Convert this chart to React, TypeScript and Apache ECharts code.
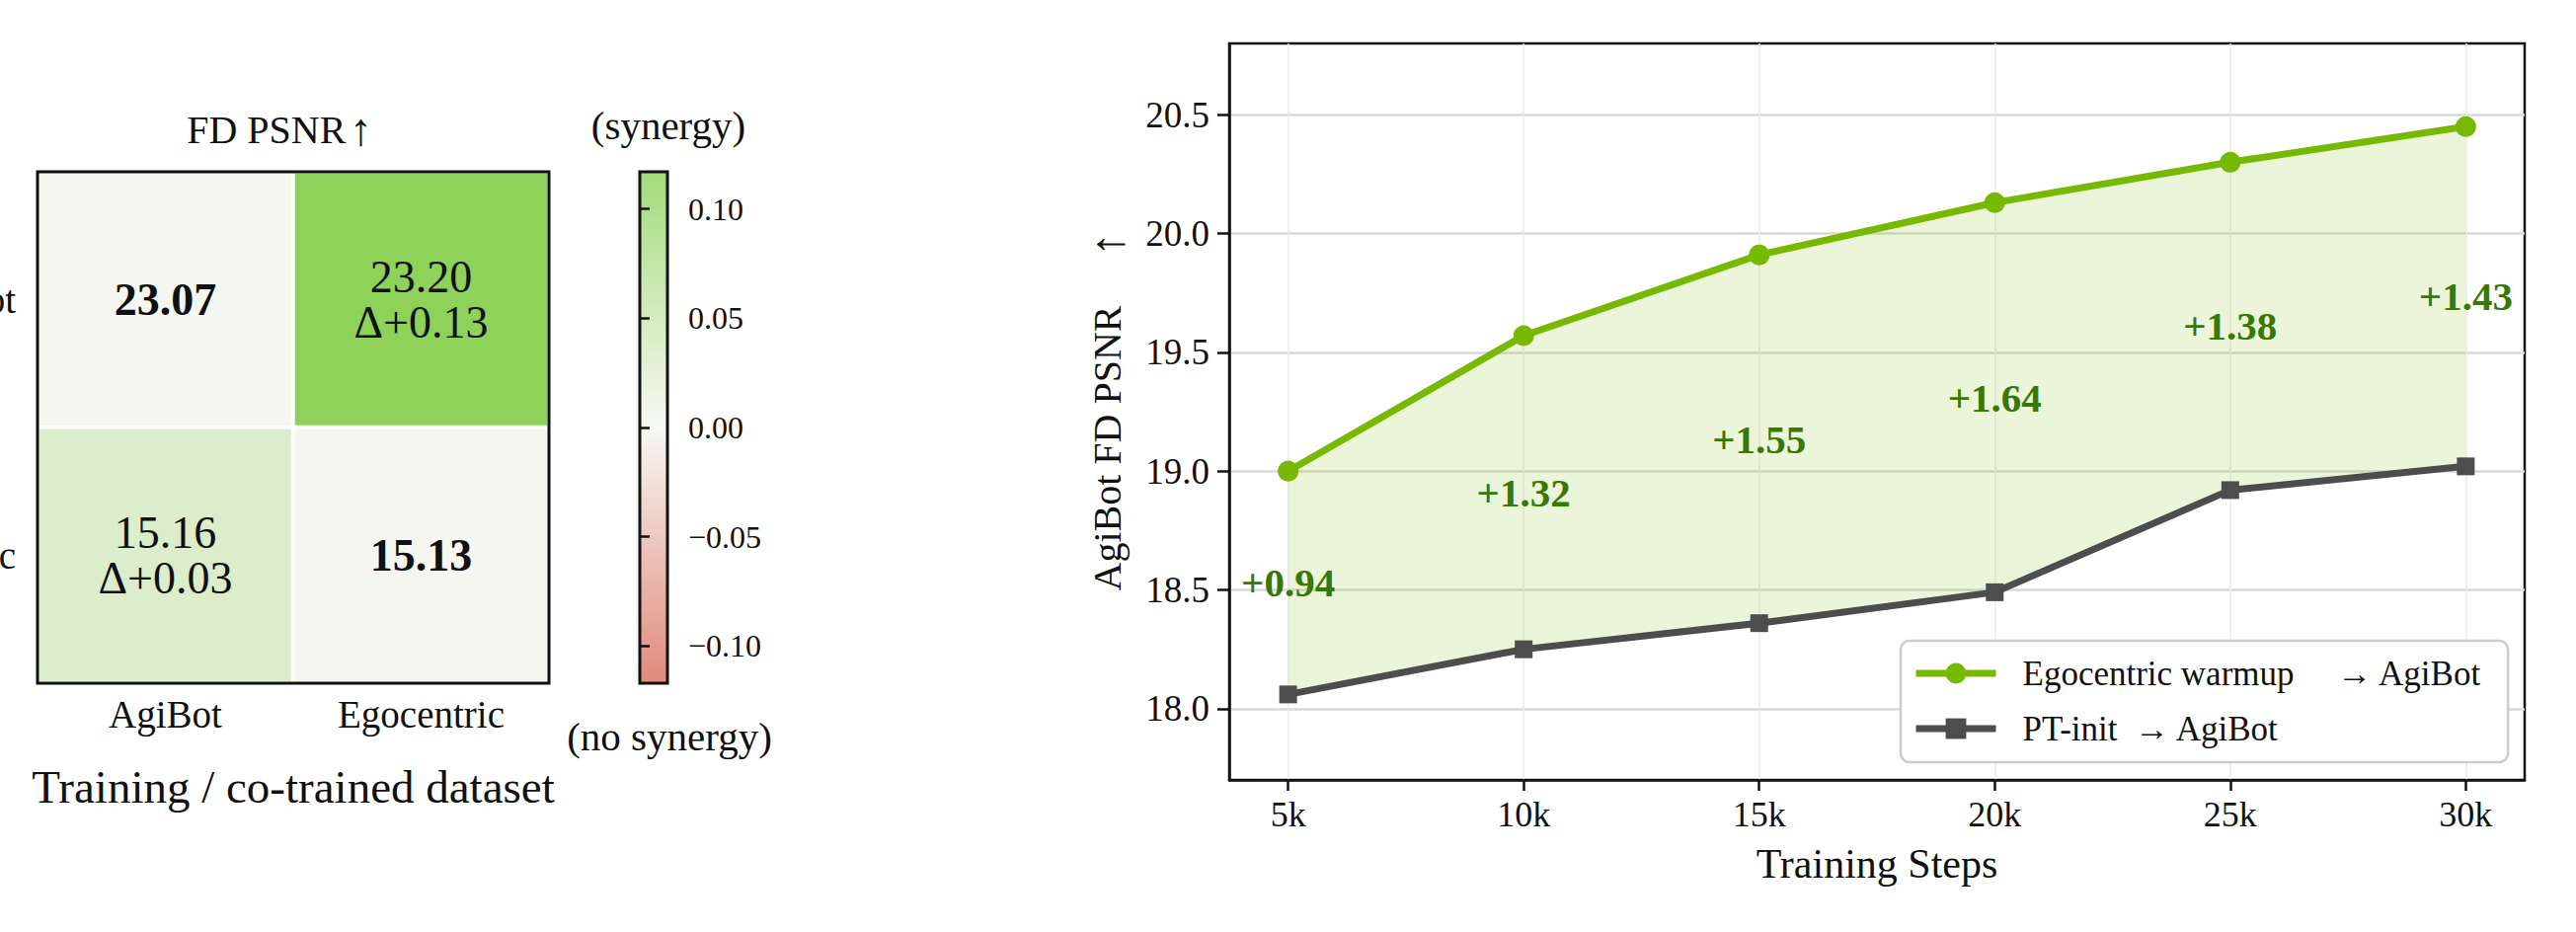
import React, { useEffect, useRef } from 'react';
import * as echarts from 'echarts';

const FONT = "'Liberation Serif', 'DejaVu Serif', serif";

// ---------- Left panel: synergy heatmap ----------
const heatCols = ['AgiBot', 'Egocentric'];
const heatRows = ['AgiBot', 'Egocentric'];
const heatPsnr = [
  [23.07, 23.2],
  [15.16, 15.13],
];
const synergyMax = 0.117;
const colorbarTicks = [-0.1, -0.05, 0, 0.05, 0.1];
const cmapLow = '#d86d5b';
const cmapMid = '#f5f6f0';
const cmapHigh = '#8fd25a';

// ---------- Right panel: warmup curves ----------
const steps = [5, 10, 15, 20, 25, 30];
const egoWarmup = [19.0, 19.57, 19.91, 20.13, 20.3, 20.45];
const ptInit = [18.06, 18.25, 18.36, 18.49, 18.92, 19.02];
const yTicks = [18.0, 18.5, 19.0, 19.5, 20.0, 20.5];
const egoName = 'Egocentric warmup     \u2192 AgiBot';
const ptName = 'PT-init  \u2192 AgiBot';
const egoColor = '#76b900';
const ptColor = '#4d4d4d';
const gainColor = '#3a7806';

function fade(hex: string, a: number) {
  const n = parseInt(hex.slice(1), 16);
  const r = (n >> 16) & 255, g = (n >> 8) & 255, b = n & 255;
  const f = (c: number) => Math.round(a * c + (1 - a) * 255);
  return `rgb(${f(r)},${f(g)},${f(b)})`;
}

function buildOption() {
  const heatData: any[] = [];
  heatRows.forEach((_, r) => {
    heatCols.forEach((__, c) => {
      const v = heatPsnr[r][c];
      const d = v - heatPsnr[r][r];
      heatData.push({
        value: [c, r, d, v],
        label: { fontWeight: r === c ? 'bold' : 'normal' },
      });
    });
  });

  const cbarGradient = new echarts.graphic.LinearGradient(0, 0, 0, 1, [
    { offset: 0, color: fade(cmapHigh, 0.8) },
    { offset: 0.5, color: fade(cmapMid, 0.8) },
    { offset: 1, color: fade(cmapLow, 0.8) },
  ]);

  const cbFmt = (v: number) =>
    Math.abs(v) < 1e-9 ? '0.00' : (v < 0 ? '\u2212' : '') + Math.abs(v).toFixed(2);

  const centered = { align: 'center', verticalAlign: 'middle', textAlign: 'center', textVerticalAlign: 'middle' };

  return {
    animation: false,
    backgroundColor: '#ffffff',
    textStyle: { fontFamily: FONT, color: '#111' },
    grid: [
      {
        left: 38, top: 174, width: 518, height: 518,
        show: true, backgroundColor: 'transparent', borderColor: '#111', borderWidth: 3,
        z: 10, containLabel: false, outerBoundsMode: 'none',
      },
      {
        left: 648, top: 174, width: 28, height: 518,
        show: true, backgroundColor: cbarGradient, borderColor: '#111', borderWidth: 3,
        containLabel: false, outerBoundsMode: 'none',
      },
      {
        left: 1245, top: 44, width: 1312, height: 746,
        show: true, backgroundColor: '#fff', borderColor: '#111', borderWidth: 2.5,
        containLabel: false, outerBoundsMode: 'none',
      },
    ],
    xAxis: [
      {
        gridIndex: 0, type: 'category', data: heatCols,
        axisLine: { show: false }, axisTick: { show: false }, splitLine: { show: false },
        axisLabel: { fontSize: 39, lineHeight: 40, margin: 11, color: '#111', fontFamily: FONT },
        name: 'Training / co-trained dataset', nameLocation: 'middle', nameGap: 81,
        nameTextStyle: { fontSize: 47, lineHeight: 48, color: '#111', fontFamily: FONT },
      },
      { gridIndex: 1, type: 'value', show: false, min: 0, max: 1 },
      {
        gridIndex: 2, type: 'value', min: 3.75, max: 31.25,
        axisLine: { show: true, lineStyle: { color: '#111', width: 2.5 } },
        axisTick: { show: true, length: 11, lineStyle: { color: '#111', width: 2.5 }, customValues: steps },
        axisLabel: {
          customValues: steps, formatter: (v: number) => `${v}k`,
          fontSize: 36, lineHeight: 36, margin: 17, color: '#111', fontFamily: FONT,
        },
        splitLine: { show: true, lineStyle: { color: '#ebebeb', width: 1.5 } },
        name: 'Training Steps', nameLocation: 'middle', nameGap: 64,
        nameTextStyle: { fontSize: 42, lineHeight: 42, color: '#111', fontFamily: FONT },
      },
    ],
    yAxis: [
      {
        gridIndex: 0, type: 'category', data: heatRows, inverse: true,
        axisLine: { show: false }, axisTick: { show: false }, splitLine: { show: false },
        axisLabel: { fontSize: 39, lineHeight: 40, margin: 22, color: '#111', fontFamily: FONT },
      },
      {
        gridIndex: 1, type: 'value', position: 'right', min: -synergyMax, max: synergyMax,
        axisLine: { show: false }, splitLine: { show: false },
        axisTick: { show: true, length: 10, lineStyle: { color: '#111', width: 2.5 }, customValues: colorbarTicks },
        axisLabel: {
          customValues: colorbarTicks, formatter: cbFmt,
          fontSize: 32, margin: 21, color: '#111', fontFamily: FONT,
        },
      },
      {
        gridIndex: 2, type: 'value', min: 17.7, max: 20.8,
        axisLine: { show: true, lineStyle: { color: '#111', width: 2.5 } },
        axisTick: { show: true, length: 12, lineStyle: { color: '#111', width: 2.5 }, customValues: yTicks },
        axisLabel: {
          customValues: yTicks, formatter: (v: number) => v.toFixed(1),
          fontSize: 37, margin: 20, color: '#111', fontFamily: FONT,
        },
        splitLine: { show: true, lineStyle: { color: '#d9d9d9', width: 2.5 } },
        name: '{t|AgiBot FD PSNR}     {a|\u2191}', nameLocation: 'middle', nameRotate: 90, nameGap: 104,
        nameTextStyle: {
          fontSize: 40, lineHeight: 40, color: '#111', fontFamily: FONT,
          rich: {
            t: { fontSize: 40, lineHeight: 40, fontFamily: FONT, color: '#111' },
            a: { fontSize: 48, lineHeight: 40, fontFamily: FONT, color: '#111' },
          },
        },
      },
    ],
    visualMap: [
      {
        type: 'continuous', show: false, seriesIndex: 0, dimension: 2,
        min: -synergyMax, max: synergyMax,
        inRange: { color: [cmapLow, cmapMid, cmapHigh] },
      },
    ],
    legend: {
      data: [egoName, ptName],
      orient: 'vertical', left: 1925, top: 649,
      itemWidth: 81, itemHeight: 26, itemGap: 20,
      padding: [15, 26, 16, 12],
      backgroundColor: '#fff', borderColor: '#cccccc', borderWidth: 2.5, borderRadius: 9,
      lineStyle: { width: 7 },
      textStyle: { fontSize: 35, lineHeight: 36, color: '#111', fontFamily: FONT, padding: [0, 0, 0, 22] },
      selectedMode: false,
    },
    graphic: [
      {
        type: 'text', x: 283, y: 131,
        style: {
          text: '{t|FD PSNR} {a|\u2191}', fill: '#111', ...centered,
          rich: {
            t: { fontSize: 40, fontFamily: FONT, fill: '#111' },
            a: { fontSize: 46, fontFamily: FONT, fill: '#111' },
          },
        },
      },
      {
        type: 'text', x: 677, y: 127,
        style: { text: '(synergy)', font: `41px ${FONT}`, fill: '#111', ...centered },
      },
      {
        type: 'text', x: 678, y: 746,
        style: { text: '(no synergy)', font: `41px ${FONT}`, fill: '#111', ...centered },
      },
    ],
    series: [
      {
        type: 'heatmap', xAxisIndex: 0, yAxisIndex: 0, data: heatData,
        itemStyle: { borderColor: '#ffffff', borderWidth: 4 },
        label: {
          show: true, fontSize: 46, lineHeight: 46, color: '#111', fontFamily: FONT,
          formatter: (p: any) => {
            const [c, r, d, v] = p.value;
            if (r === c) return v.toFixed(2);
            return `${v.toFixed(2)}\n\u0394${d >= 0 ? '+' : '\u2212'}${Math.abs(d).toFixed(2)}`;
          },
        },
        emphasis: { disabled: true },
        z: 2,
      },
      {
        type: 'custom', xAxisIndex: 2, yAxisIndex: 2, silent: true, z: 1,
        data: steps.map((s, i) => [s, egoWarmup[i], ptInit[i]]),
        encode: { x: 0, y: [1, 2] },
        renderItem: (params: any, api: any) => {
          if (params.dataIndexInside !== 0) return null;
          const n = params.dataInsideLength;
          const upper: number[][] = [];
          const lower: number[][] = [];
          for (let i = 0; i < n; i++) {
            upper.push(api.coord([api.value(0, i), api.value(1, i)]));
            lower.push(api.coord([api.value(0, i), api.value(2, i)]));
          }
          return {
            type: 'polygon',
            shape: { points: upper.concat(lower.reverse()) },
            style: { fill: 'rgba(118,185,0,0.15)' },
          };
        },
      },
      {
        name: egoName, type: 'line', xAxisIndex: 2, yAxisIndex: 2,
        data: steps.map((s, i) => [s, egoWarmup[i]]),
        symbol: 'circle', symbolSize: 21,
        lineStyle: { color: egoColor, width: 7 }, itemStyle: { color: egoColor },
        emphasis: { disabled: true }, z: 3,
      },
      {
        name: ptName, type: 'line', xAxisIndex: 2, yAxisIndex: 2,
        data: steps.map((s, i) => [s, ptInit[i]]),
        symbol: 'rect', symbolSize: 18,
        lineStyle: { color: ptColor, width: 7 }, itemStyle: { color: ptColor },
        emphasis: { disabled: true }, z: 3,
      },
      {
        type: 'scatter', xAxisIndex: 2, yAxisIndex: 2, silent: true,
        data: steps.map((s, i) => [s, (egoWarmup[i] + ptInit[i]) / 2, egoWarmup[i] - ptInit[i]]),
        symbolSize: 0, itemStyle: { color: 'transparent', opacity: 1 },
        label: {
          show: true, position: 'inside', fontSize: 41, fontWeight: 'bold', color: gainColor,
          fontFamily: FONT, opacity: 1,
          formatter: (p: any) => `+${p.value[2].toFixed(2)}`,
        },
        z: 5,
      },
    ],
  };
}

export default function App() {
  const ref = useRef<HTMLDivElement>(null);
  useEffect(() => {
    document.body.style.margin = '0';
    const chart = echarts.init(ref.current as HTMLDivElement, null, { renderer: 'svg', width: 2609, height: 944 });
    chart.setOption(buildOption() as any);
    return () => chart.dispose();
  }, []);
  return (
    <div
      ref={ref}
      style={{ position: 'absolute', left: 0, top: 0, width: 2609, height: 944, background: '#fff' }}
    />
  );
}
